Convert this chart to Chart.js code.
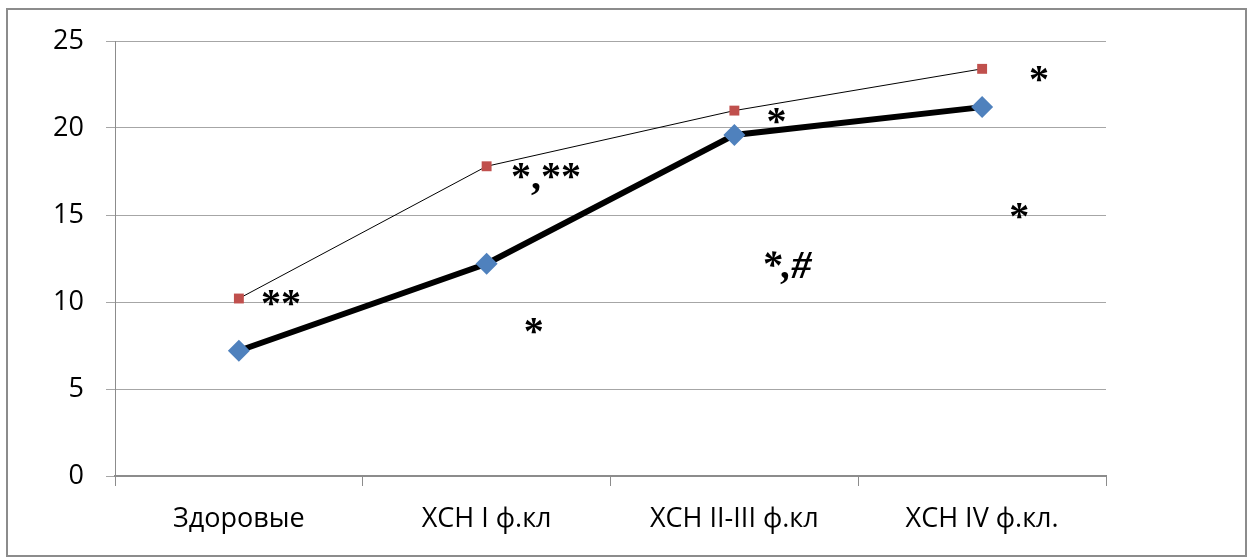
<!DOCTYPE html>
<html>
<head>
<meta charset="utf-8">
<script src="https://cdn.jsdelivr.net/npm/chart.js@4"></script>
<style>
  html, body { margin: 0; padding: 0; background: #fff; }
  #wrap { width: 1251px; height: 557px; }
</style>
</head>
<body>
<div id="wrap"><canvas id="chart" width="1251" height="557"></canvas></div>
<script>
const categories = ['Здоровые', 'ХСН I ф.кл', 'ХСН II-III ф.кл', 'ХСН IV ф.кл.'];
const upperSeries = [10.2, 17.8, 21.0, 23.4];
const lowerSeries = [7.2, 12.2, 19.6, 21.2];
const yTicks = [0, 5, 10, 15, 20, 25];

// significance marks: text, x (category index, fractional), y (value)
const markTexts = ['**', '*,**', '*', '*', '*', '*,#', '*'];
const markX = [0.17, 1.24, 2.17, 3.23, 1.19, 2.21, 3.15];
const markY = [10.3, 17.6, 20.75, 23.2, 8.7, 12.5, 15.3];

// outer frame + text marks
const extras = {
  id: 'extras',
  afterDraw(chart) {
    const ctx = chart.ctx;
    const xs = chart.scales.x, ys = chart.scales.y;
    ctx.save();
    ctx.fillStyle = '#000';
    ctx.textAlign = 'center';
    ctx.textBaseline = 'middle';
    markTexts.forEach((t, i) => {
      ctx.font = (t.includes('#') ? 'italic ' : '') + 'bold 40px "Liberation Serif"';
      ctx.fillText(t, xs.getPixelForValue(markX[i]), ys.getPixelForValue(markY[i]) + 9);
    });
    ctx.strokeStyle = '#8c8c8c';
    ctx.lineWidth = 2;
    ctx.strokeRect(7, 9, 1239, 547);
    ctx.restore();
  }
};

new Chart(document.getElementById('chart'), {
  type: 'line',
  data: {
    labels: categories,
    datasets: [
      {
        data: upperSeries,
        borderColor: '#000',
        borderWidth: 1,
        pointStyle: 'rect',
        pointRadius: 7,
        pointHoverRadius: 7,
        pointBackgroundColor: '#c0504d',
        pointBorderColor: '#c0504d',
        pointBorderWidth: 0
      },
      {
        data: lowerSeries,
        borderColor: '#000',
        borderWidth: 6,
        pointStyle: 'rectRot',
        pointRadius: 11,
        pointHoverRadius: 11,
        pointBackgroundColor: '#4f81bd',
        pointBorderColor: '#4f81bd',
        pointBorderWidth: 0
      }
    ]
  },
  options: {
    responsive: false,
    animation: false,
    layout: { padding: { top: 41, right: 145, left: 0, bottom: 0 } },
    plugins: { legend: { display: false }, tooltip: { enabled: false } },
    scales: {
      x: {
        offset: true,
        afterFit(scale) { scale.height = 81; },
        grid: { offset: true, drawOnChartArea: false, tickLength: 10, color: '#8c8c8c' },
        border: { color: '#8c8c8c', width: 2 },
        ticks: { color: '#000', padding: 17, font: { family: 'Open Sans', size: 27 } }
      },
      y: {
        min: 0,
        max: 25,
        afterFit(scale) { scale.width = 115; },
        afterBuildTicks(scale) { scale.ticks = yTicks.map(v => ({ value: v })); },
        grid: { color: '#a6a6a6', lineWidth: 1, tickLength: 9 },
        border: { color: '#8c8c8c', width: 1 },
        ticks: { color: '#000', padding: 22, font: { family: 'Open Sans', size: 27 } }
      }
    }
  },
  plugins: [extras]
});
</script>
</body>
</html>
